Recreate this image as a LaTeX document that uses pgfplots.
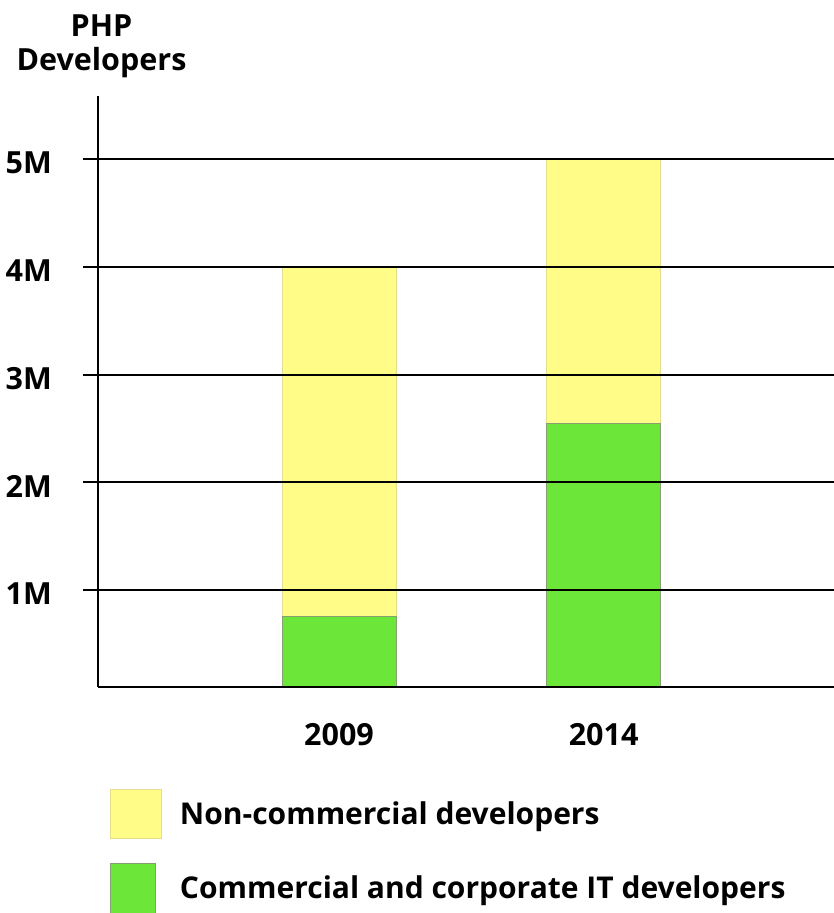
\documentclass[border=0pt]{standalone}
\usepackage{fontspec}
\setmainfont{Open Sans}
\usepackage{pgfplots}
\pgfplotsset{compat=1.18}
\definecolor{ylw}{HTML}{FFFC88}
\definecolor{ylwedge}{HTML}{E4DE88}
\definecolor{grn}{HTML}{6CE639}
\definecolor{grnedge}{HTML}{86A070}
\newcommand{\lbl}{\fontsize{30.5}{34}\selectfont\bfseries}
\newcommand{\leg}{\fontsize{30}{34}\selectfont\bfseries}
\begin{document}
\begin{tikzpicture}
\useasboundingbox (-98pt,-226pt) rectangle (736pt,687pt);
\begin{axis}[
  at={(0,0)}, anchor=south west,
  scale only axis, width=736pt, height=591pt,
  xmin=-0.911, xmax=1.871, ymin=0.10, ymax=5.585,
  axis lines*=left,
  axis line style={line width=2pt, black},
  axis on top,
  ybar, bar width=114pt,
  xtick={0,1}, xticklabels={2009,2014},
  xtick style={draw=none},
  ytick={1,2,3,4,5}, yticklabels={1M,2M,3M,4M,5M},
  ymajorgrids, grid style={line width=2pt, black},
  ytick style={line width=2pt, black},
  tick align=outside, major tick length=15pt,
  tick label style={font=\lbl, inner sep=0pt, text=black},
  yticklabel style={anchor=east, xshift=-31pt, yshift=-4pt},
  xticklabel style={anchor=north, yshift=-21pt},
  legend cell align=left,
  legend style={at={(0.0163,-0.1726)}, anchor=north west, draw=none, fill=none,
    inner sep=0pt, outer sep=0pt, row sep=23.5pt, column sep=18pt, font=\leg,
    nodes={inner sep=0pt}},
]
\addplot[fill=ylw, draw=ylwedge, line width=1pt, bar shift=0pt,
  legend image code/.code={\draw[fill=ylw, draw=ylwedge, line width=1pt] (0pt,-24.5pt) rectangle (51pt,24.5pt);}]
  coordinates {(0,4) (1,5)};
\addlegendentry{Non-commercial developers}
\addplot[fill=grn, draw=grnedge, line width=1pt, bar shift=0pt,
  legend image code/.code={\draw[fill=grn, draw=grnedge, line width=1pt] (0pt,-25pt) rectangle (45pt,25pt);}]
  coordinates {(0,0.75) (1,2.55)};
\addlegendentry{Commercial and corporate IT developers}
\end{axis}
\node[anchor=base, inner sep=0pt, font=\lbl] at (3.5pt,650pt) {PHP};
\node[anchor=base, inner sep=0pt, font=\lbl] at (3.5pt,616pt) {Developers};
\end{tikzpicture}
\end{document}
